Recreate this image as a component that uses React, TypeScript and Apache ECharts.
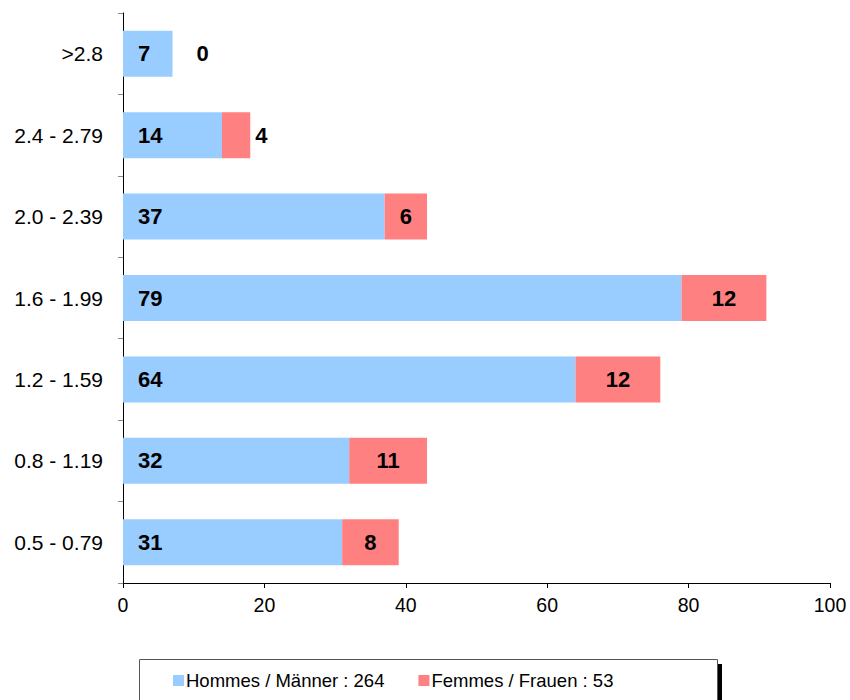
import React, { useEffect, useRef } from "react";
import * as echarts from "echarts";

const categories = ["0.5 - 0.79", "0.8 - 1.19", "1.2 - 1.59", "1.6 - 1.99", "2.0 - 2.39", "2.4 - 2.79", ">2.8"];
const hommes = [31, 32, 64, 79, 37, 14, 7];
const femmes = [8, 11, 12, 12, 6, 4, 0];
const seriesNames = ["Hommes / Männer : 264", "Femmes / Frauen : 53"];
const xTicks = { min: 0, max: 100, interval: 20 };

const FONT = "'Liberation Sans', Arial, sans-serif";

export default function App() {
  const ref = useRef<HTMLDivElement>(null);
  useEffect(() => {
    if (!ref.current) return;
    const chart = echarts.init(ref.current, null, { renderer: "svg" });
    const femData = femmes.map((v, i) => {
      const total = hommes[i] + v;
      const segWidthFrac = v / xTicks.max;
      if (v === 0) {
        return { value: v, label: { position: "right", distance: 24 } };
      }
      if (segWidthFrac < 0.05 && total > 0) {
        return { value: v, label: { position: "right", distance: 5 } };
      }
      return { value: v };
    });
    chart.setOption({
      animation: false,
      textStyle: { fontFamily: FONT },
      grid: { left: 123, right: 20, top: 13, bottom: 117, containLabel: false },
      xAxis: {
        type: "value",
        min: xTicks.min,
        max: xTicks.max,
        interval: xTicks.interval,
        axisLine: { show: true, lineStyle: { color: "#000", width: 1 } },
        axisTick: { show: true, length: 5, lineStyle: { color: "#000" } },
        splitLine: { show: false },
        axisLabel: { color: "#000", fontSize: 19.5, margin: 12, fontFamily: FONT },
      },
      yAxis: {
        type: "category",
        data: categories,
        axisLine: { show: true, lineStyle: { color: "#000", width: 1 } },
        axisTick: { show: true, length: 5, lineStyle: { color: "#888" } },
        axisLabel: { color: "#000", fontSize: 21, margin: 20, fontFamily: FONT },
      },
      legend: {
        left: 168,
        top: 666,
        itemWidth: 11,
        itemHeight: 11,
        itemGap: 34,
        icon: "rect",
        textStyle: { fontSize: 18.5, color: "#000", fontFamily: FONT, padding: [0, 0, 0, -3] },
        data: seriesNames,
      },
      graphic: [
        { type: "rect", shape: { x: 717, y: 664, width: 5, height: 40 }, style: { fill: "#000" }, z: 0 },
        { type: "rect", shape: { x: 139.5, y: 659.5, width: 578, height: 50 }, style: { fill: "#fff", stroke: "#555", lineWidth: 1 }, z: 1 },
      ],
      series: [
        {
          name: seriesNames[0],
          type: "bar",
          stack: "total",
          barWidth: 46,
          data: hommes,
          itemStyle: { color: "#99CCFF" },
          label: { show: true, position: "insideLeft", distance: 15, fontSize: 22, fontWeight: "bold", color: "#000", fontFamily: FONT },
        },
        {
          name: seriesNames[1],
          type: "bar",
          stack: "total",
          barWidth: 46,
          data: femData,
          itemStyle: { color: "#FF8080" },
          label: { show: true, position: "inside", fontSize: 22, fontWeight: "bold", color: "#000", fontFamily: FONT },
        },
      ],
    });
    return () => chart.dispose();
  }, []);
  return <div ref={ref} style={{ position: "fixed", left: 0, top: 0, width: 850, height: 700, background: "#fff" }} />;
}
